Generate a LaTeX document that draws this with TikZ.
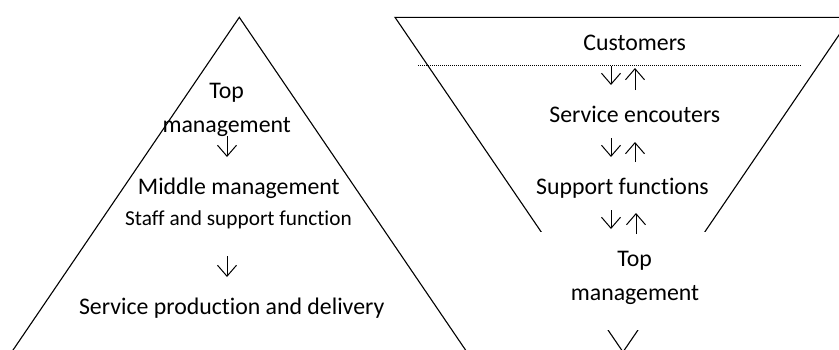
\documentclass[tikz,border=0pt]{standalone}
\usepackage{fontspec}
\setmainfont{Carlito}[Ligatures={NoCommon}]
\usetikzlibrary{arrows.meta}
\begin{document}
\begin{tikzpicture}[x=1pt,y=-1pt,
  lbl/.style={anchor=base, inner sep=0pt, font=\fontsize{23.8}{28}\selectfont},
  small/.style={anchor=base, inner sep=0pt, font=\fontsize{21.3}{26}\selectfont},
  arr/.style={-{Straight Barb[length=11pt,width=19pt]}, line width=1pt},
  tri/.style={draw, line width=1.1pt, line join=miter},
  mask/.style={fill=white, draw=none, inner sep=0pt},
  sep/.style={line width=0.9pt, dash pattern=on 0.9pt off 1.1pt},
]
\useasboundingbox (0,0) rectangle (839,349);
\clip (0,0) rectangle (839,349);

% left pyramid
\draw[tri] (4.9,362) -- (239.3,17.3) -- (473.7,362);

% right inverted pyramid
\draw[tri] (395,17.3) -- (851,17.3) -- (623,352) -- cycle;
\node[mask, minimum width=290pt, minimum height=97.7pt] (box) at (635,281.2) {};

% dotted separator
\coordinate (d1) at (418.3,65.7);
\coordinate (d2) at (801.7,65.7);
\draw[sep] (d1) -- (d2);

% left texts
\node[lbl] (ltop) at (226.7,98.7) {Top};
\node[lbl] (lmgmt) at (226.7,132.3) {management};
\node[lbl] (lmid) at (238.8,194.3) {Middle management};
\node[small] (lstaff) at (238.5,225.7) {Staff and support function};
\node[lbl] (lserv) at (231.7,314) {Service production and delivery};

% right texts
\node[lbl] (cust) at (634.7,50.7) {Customers};
\node[lbl] (senc) at (634.8,122.3) {Service encouters};
\node[lbl] (supp) at (622.5,194) {Support functions};
\node[lbl] (rtop) at (634.7,266.7) {Top};
\node[lbl] (rmgmt) at (635,300) {management};

% left arrows
\coordinate (la1s) at (227,136);  \coordinate (la1e) at (227,157);
\coordinate (la2s) at (227,256);  \coordinate (la2e) at (227,277);
\draw[arr] (la1s) -- (la1e);
\draw[arr] (la2s) -- (la2e);

% right arrow pairs
\coordinate (d1s) at (611,66);   \coordinate (d1e) at (611,85);
\coordinate (u1s) at (635,90);   \coordinate (u1e) at (635,68);
\coordinate (d2s) at (611,138);  \coordinate (d2e) at (611,157);
\coordinate (u2s) at (635,162);  \coordinate (u2e) at (635,142);
\coordinate (d3s) at (611,210);  \coordinate (d3e) at (611,229);
\coordinate (u3s) at (636,234);  \coordinate (u3e) at (636,213);
\draw[arr] (d1s) -- (d1e);
\draw[arr] (u1s) -- (u1e);
\draw[arr] (d2s) -- (d2e);
\draw[arr] (u2s) -- (u2e);
\draw[arr] (d3s) -- (d3e);
\draw[arr] (u3s) -- (u3e);
\end{tikzpicture}
\end{document}
